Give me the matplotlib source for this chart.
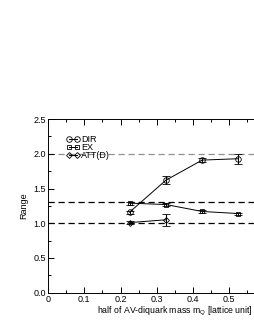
import matplotlib
matplotlib.use("Agg")
import matplotlib.pyplot as plt
from matplotlib.ticker import MultipleLocator, FuncFormatter, FixedLocator

plt.rcParams['font.family'] = ['Liberation Sans', 'DejaVu Sans']

x_dir = [0.225, 0.325, 0.425, 0.525]
y_dir = [1.16, 1.62, 1.91, 1.93]
e_dir = [0.02, 0.06, 0.03, 0.07]
x_ex = [0.225, 0.325, 0.425, 0.525]
y_ex = [1.29, 1.27, 1.17, 1.14]
e_ex = [0.02, 0.015, 0.015, 0.015]
x_att = [0.225, 0.325]
y_att = [1.01, 1.05]
e_att = [0.02, 0.09]
x_ticks = [0.0, 0.1, 0.2, 0.3, 0.4, 0.5]
hlines_black = [1.0, 1.3]
hline_grey = 2.0

fig = plt.figure(figsize=(2.55, 3.3), dpi=100)
ax = fig.add_axes([0.188, 0.113, 0.996, 0.526])
ax.axhline(hline_grey, color='#909090', ls=(0, (5, 3)), lw=0.9, zorder=1)
for h in hlines_black:
    ax.axhline(h, color='black', ls=(0, (5, 3)), lw=0.9, zorder=1)

kw = dict(color='black', lw=0.7, mfc='none', mec='black', mew=0.6,
          capsize=3, elinewidth=0.8, capthick=0.8)
c1 = ax.errorbar(x_dir, y_dir, yerr=e_dir, marker='o', ms=4, label='DIR', **kw)
c2 = ax.errorbar(x_ex, y_ex, yerr=e_ex, marker='s', ms=3.5, label='EX', **kw)
c3 = ax.errorbar(x_att, y_att, yerr=e_att, marker='D', ms=3, label='ATT(D)', **kw)

ax.set_xlim(0, 0.70)
ax.set_ylim(0, 2.5)
ax.xaxis.set_major_locator(FixedLocator(x_ticks))
ax.xaxis.set_minor_locator(FixedLocator([0.05, 0.15, 0.25, 0.35, 0.45, 0.55]))
ax.yaxis.set_major_locator(MultipleLocator(0.5))
ax.yaxis.set_minor_locator(MultipleLocator(0.25))
ax.tick_params(which='both', direction='in', top=True, right=False, labelsize=6.5, width=0.7, pad=1.5)
ax.tick_params(which='major', length=4)
ax.tick_params(which='minor', length=2)
ax.xaxis.set_major_formatter(FuncFormatter(lambda v, p: '0' if abs(v) < 1e-9 else f'{v:.1f}'))
ax.yaxis.set_major_formatter(FuncFormatter(lambda v, p: f'{v:.1f}'))
for s in ax.spines.values():
    s.set_linewidth(0.7)
ax.spines['right'].set_visible(False)
ax.set_ylabel('Range', fontsize=6.5, labelpad=4)
ax.set_xlabel('half of AV-diquark mass m$_\\mathregular{Q}$ [lattice unit]', fontsize=6.3, labelpad=1)
leg = ax.legend([c1[0], c2[0], c3[0]], ['DIR', 'EX', 'ATT(D)'],
                loc='upper left', bbox_to_anchor=(0.06, 0.93), frameon=False, fontsize=6.5,
                numpoints=2, handlelength=1.4, handletextpad=0.2, labelspacing=-0.1, borderaxespad=0)
fig.savefig('out.png', dpi=100)
